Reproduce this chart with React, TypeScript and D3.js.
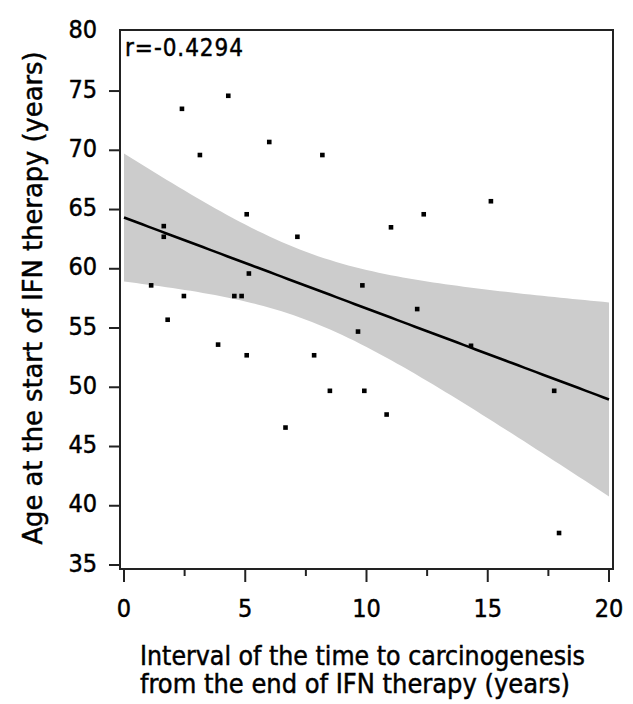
import React from "react";
import * as d3 from "d3";

// interval (years) from end of IFN therapy to carcinogenesis
const intervalYears = [
  2.39, 4.3, 5.99, 3.13, 8.18, 5.06, 7.15, 1.64, 1.64, 15.13, 12.36, 11.01,
  5.15, 1.12, 9.83, 2.47, 4.55, 4.85, 1.8, 9.65, 3.88, 5.06, 7.84, 8.49, 9.91,
  6.66, 12.09, 14.31, 17.74, 10.83, 17.94,
];
// age at the start of IFN therapy (years)
const ageYears = [
  73.5, 74.6, 70.7, 69.6, 69.6, 64.6, 62.7, 63.6, 62.7, 65.7, 64.6, 63.5,
  59.6, 58.6, 58.6, 57.7, 57.7, 57.7, 55.7, 54.7, 53.6, 52.7, 52.7, 49.7, 49.7,
  46.6, 56.6, 53.5, 49.7, 47.7, 37.7,
];

const xTicks = [0, 5, 10, 15, 20];
const xMinorTicks = [2.5, 7.5, 12.5, 17.5];
const yTicks = [35, 40, 45, 50, 55, 60, 65, 70, 75];
const yTickLabels = [35, 40, 45, 50, 55, 60, 65, 70, 75, 80];
const rLabel = "r=-0.4294";
const tCrit = 2.045; // 95%, df = 29

const FONT = "'DejaVu Sans Condensed', 'DejaVu Sans', sans-serif";

export default function App() {
  const width = 633;
  const height = 704;

  const x = d3.scaleLinear().domain([0, 20]).range([124, 609]);
  const y = d3.scaleLinear().domain([35, 80]).range([565, 31.8]);

  const box = { left: 120, right: 613, top: 30, bottom: 569 };

  // least squares fit + confidence band of the mean
  const pts = intervalYears.map((v, i) => ({ x: v, y: ageYears[i] }));
  const n = pts.length;
  const mx = d3.mean(pts, (d) => d.x) as number;
  const my = d3.mean(pts, (d) => d.y) as number;
  const sxx = d3.sum(pts, (d) => (d.x - mx) ** 2);
  const sxy = d3.sum(pts, (d) => (d.x - mx) * (d.y - my));
  const slope = sxy / sxx;
  const icpt = my - slope * mx;
  const sse = d3.sum(pts, (d) => (d.y - (icpt + slope * d.x)) ** 2);
  const s = Math.sqrt(sse / (n - 2));
  const grid = d3.range(0, 20.0001, 0.25);
  const band = grid.map((g) => {
    const fit = icpt + slope * g;
    const hw = tCrit * s * Math.sqrt(1 / n + (g - mx) ** 2 / sxx);
    return { x: g, lo: fit - hw, hi: fit + hw, fit };
  });

  const area = d3
    .area<{ x: number; lo: number; hi: number }>()
    .x((d) => x(d.x))
    .y0((d) => y(d.lo))
    .y1((d) => y(d.hi));
  const line = d3
    .line<{ x: number; fit: number }>()
    .x((d) => x(d.x))
    .y((d) => y(d.fit));

  const txt = { fill: "#000", stroke: "#000", strokeWidth: 0.45 };

  return (
    <svg
      width={width}
      height={height}
      style={{ position: "absolute", left: 0, top: 0, background: "#fff" }}
      fontFamily={FONT}
    >
      <rect width={width} height={height} fill="#fff" />
      <path d={area(band) || ""} fill="#cccccc" />
      <path d={line(band) || ""} fill="none" stroke="#000" strokeWidth={2.6} />

      {pts.map((d, i) => (
        <rect
          key={i}
          x={x(d.x) - 2.3}
          y={y(d.y) - 2.3}
          width={4.6}
          height={4.6}
          fill="#000"
        />
      ))}

      <rect
        x={box.left}
        y={box.top}
        width={box.right - box.left}
        height={box.bottom - box.top}
        fill="none"
        stroke="#222"
        strokeWidth={2}
      />

      {yTicks.map((t) => (
        <line key={t} x1={109} x2={box.left} y1={y(t)} y2={y(t)} stroke="#222" strokeWidth={2} />
      ))}
      {yTickLabels.map((t) => (
        <text
          key={t}
          x={97}
          y={y(t) - 2}
          textAnchor="end"
          dominantBaseline="central"
          fontSize={25}
          {...txt}
        >
          {t}
        </text>
      ))}

      {xTicks.map((t) => (
        <line key={t} x1={x(t)} x2={x(t)} y1={box.bottom} y2={box.bottom + 13} stroke="#222" strokeWidth={2} />
      ))}
      {xMinorTicks.map((t) => (
        <line key={t} x1={x(t)} x2={x(t)} y1={box.bottom} y2={box.bottom + 7} stroke="#222" strokeWidth={2} />
      ))}
      {xTicks.map((t) => (
        <text key={t} x={x(t)} y={617} textAnchor="middle" fontSize={25} {...txt}>
          {t}
        </text>
      ))}

      <text x={125} y={56} fontSize={24} textLength={118} {...txt}>
        {rLabel}
      </text>

      <text x={140} y={665} fontSize={26} textLength={445} lengthAdjust="spacingAndGlyphs" {...txt}>
        Interval of the time to carcinogenesis
      </text>
      <text x={140} y={693} fontSize={26} textLength={430} lengthAdjust="spacingAndGlyphs" {...txt}>
        from the end of IFN therapy (years)
      </text>

      <text
        transform="translate(42,298) rotate(-90)"
        textAnchor="middle"
        fontSize={26}
        textLength={493}
        lengthAdjust="spacingAndGlyphs"
        {...txt}
      >
        Age at the start of IFN therapy (years)
      </text>
    </svg>
  );
}
